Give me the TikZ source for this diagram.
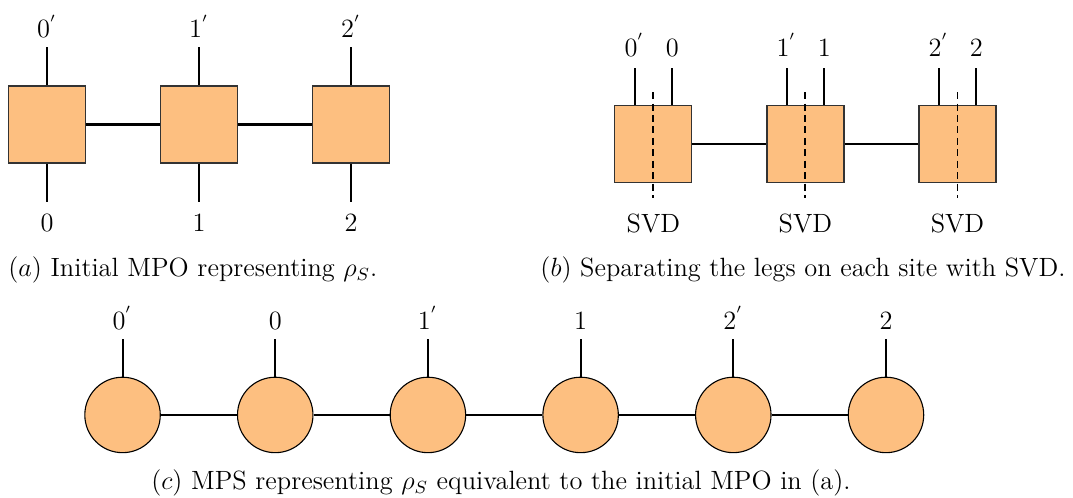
\documentclass[tikz,border=0pt]{standalone}
\usepackage{tikz}
\usetikzlibrary{positioning}
\usepackage{amsmath}
\definecolor{peach}{RGB}{253,191,128}
\tikzset{
    site/.style={draw=black!80, line width=0.5pt, fill=peach, minimum size=35pt, inner sep=0pt}, % MPO tensors
    mps/.style={circle, draw, line width=0.5pt, fill=peach, minimum size=34.3pt, inner sep=0pt}, % MPS tensors
    leg/.style={line width=0.9pt}, % physical legs
    bond/.style={line width=0.95pt}, % virtual bonds
    cut/.style={line width=0.9pt, dash pattern=on 3.2pt off 2pt}, % where the SVD splits
    index/.style={font=\large, inner sep=0pt}, % leg labels
    caption/.style={font=\large, inner sep=0pt}, % sub-captions
}

\begin{document}
\begin{tikzpicture}[x=1pt, y=1pt]
    \useasboundingbox (0,0) rectangle (487.7,225.9);

    % (a) initial MPO
    \node[site] (a0) at (21.4,169.3) {};
    \node[site] (a1) [right=33.6pt of a0] {};
    \node[site] (a2) [right=33.6pt of a1] {};
    \draw[bond] (a0) -- (a1) (a1) -- (a2);

    \coordinate[above=17.3pt of a0] (a0t);
    \coordinate[above=17.3pt of a1] (a1t);
    \coordinate[above=17.3pt of a2] (a2t);
    \coordinate[below=17.3pt of a0] (a0b);
    \coordinate[below=17.3pt of a1] (a1b);
    \coordinate[below=17.3pt of a2] (a2b);
    \draw[leg] (a0t) -- (a0) -- (a0b)
               (a1t) -- (a1) -- (a1b)
               (a2t) -- (a2) -- (a2b);
    \node[index, above=4.1pt of a0t] (a0u) {$0^{'}$};
    \node[index, above=4.1pt of a1t] (a1u) {$1^{'}$};
    \node[index, above=4.1pt of a2t] (a2u) {$2^{'}$};
    \node[index, below=5.5pt of a0b] (a0d) {$0$};
    \node[index, below=5.5pt of a1b] (a1d) {$1$};
    \node[index, below=5.5pt of a2b] (a2d) {$2$};

    \node[caption, anchor=base west] (capa) at (3.6,100) {$(a)$ Initial MPO representing $\rho_S$.};

    % (b) splitting each site
    \node[site] (b0) at (297,160.4) {};
    \node[site] (b1) [right=33.6pt of b0] {};
    \node[site] (b2) [right=33.6pt of b1] {};
    \draw[bond] (b0) -- (b1) (b1) -- (b2);

    \coordinate[above=16.8pt of b0.north, xshift=-8.6pt] (b0l);
    \coordinate[above=16.8pt of b0.north, xshift=8.6pt] (b0r);
    \coordinate[above=16.8pt of b1.north, xshift=-8.6pt] (b1l);
    \coordinate[above=16.8pt of b1.north, xshift=8.6pt] (b1r);
    \coordinate[above=16.8pt of b2.north, xshift=-8.6pt] (b2l);
    \coordinate[above=16.8pt of b2.north, xshift=8.6pt] (b2r);
    \draw[leg] (b0l) -- (b0l |- b0.north) (b0r) -- (b0r |- b0.north)
               (b1l) -- (b1l |- b1.north) (b1r) -- (b1r |- b1.north)
               (b2l) -- (b2l |- b2.north) (b2r) -- (b2r |- b2.north);
    \node[index, above=5pt of b0l] (b0lu) {$0^{'}$};
    \node[index, above=5pt of b0r] (b0ru) {$0$};
    \node[index, above=5pt of b1l] (b1lu) {$1^{'}$};
    \node[index, above=5pt of b1r] (b1ru) {$1$};
    \node[index, above=5pt of b2l] (b2lu) {$2^{'}$};
    \node[index, above=5pt of b2r] (b2ru) {$2$};

    \coordinate[above=5.9pt of b0] (b0k);
    \coordinate[above=5.9pt of b1] (b1k);
    \coordinate[above=5.9pt of b2] (b2k);
    \coordinate[below=6.8pt of b0] (b0c);
    \coordinate[below=6.8pt of b1] (b1c);
    \coordinate[below=6.8pt of b2] (b2c);
    \draw[cut] (b0k) -- (b0c) (b1k) -- (b1c) (b2k) -- (b2c);
    \node[index, below=6.8pt of b0c] (b0s) {SVD};
    \node[index, below=6.8pt of b1c] (b1s) {SVD};
    \node[index, below=6.8pt of b2c] (b2s) {SVD};

    \node[caption, anchor=base east] (capb) at (484.5,100) {$(b)$ Separating the legs on each site with SVD.};

    % (c) resulting MPS
    \node[mps] (c0) at (55.7,37.3) {};
    \node[mps] (c1) [right=34.6pt of c0] {};
    \node[mps] (c2) [right=34.6pt of c1] {};
    \node[mps] (c3) [right=34.6pt of c2] {};
    \node[mps] (c4) [right=34.6pt of c3] {};
    \node[mps] (c5) [right=34.6pt of c4] {};
    \draw[bond] (c0) -- (c1) (c1) -- (c2) (c2) -- (c3)
                (c3) -- (c4) (c4) -- (c5);

    \coordinate[above=17.3pt of c0] (c0t);
    \coordinate[above=17.3pt of c1] (c1t);
    \coordinate[above=17.3pt of c2] (c2t);
    \coordinate[above=17.3pt of c3] (c3t);
    \coordinate[above=17.3pt of c4] (c4t);
    \coordinate[above=17.3pt of c5] (c5t);
    \draw[leg] (c0) -- (c0t) (c1) -- (c1t) (c2) -- (c2t)
               (c3) -- (c3t) (c4) -- (c4t) (c5) -- (c5t);
    \node[index, above=4.1pt of c0t] (c0u) {$0^{'}$};
    \node[index, above=4.1pt of c1t] (c1u) {$0$};
    \node[index, above=4.1pt of c2t] (c2u) {$1^{'}$};
    \node[index, above=4.1pt of c3t] (c3u) {$1$};
    \node[index, above=4.1pt of c4t] (c4u) {$2^{'}$};
    \node[index, above=4.1pt of c5t] (c5u) {$2$};

    \node[caption, anchor=base] (capc) at (227.7,3.6) {$(c)$ MPS representing $\rho_S$ equivalent to the initial MPO in (a).};
\end{tikzpicture}
\end{document}
